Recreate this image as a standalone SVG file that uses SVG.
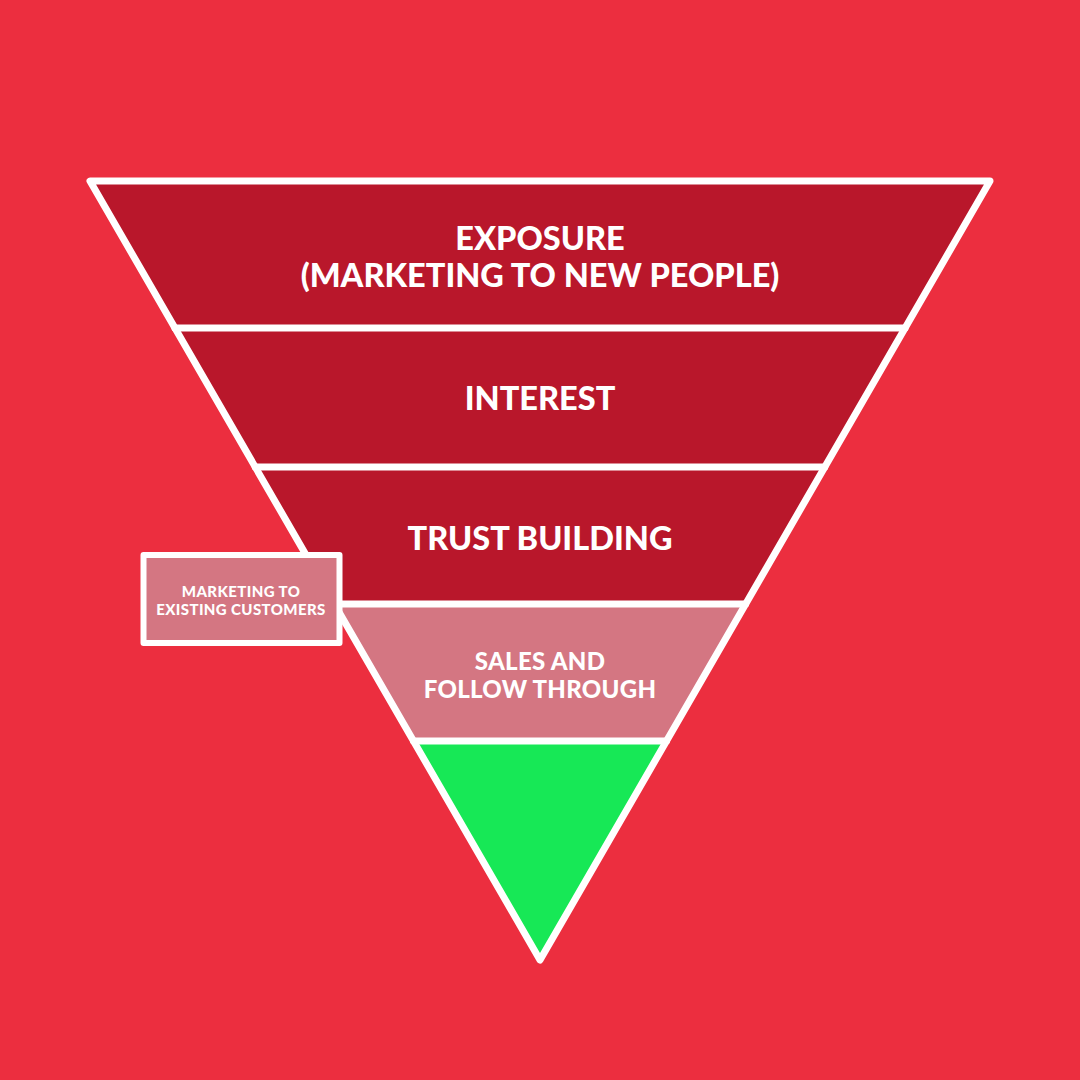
<svg xmlns="http://www.w3.org/2000/svg" width="1080" height="1080" viewBox="0 0 1080 1080">
<style>
.t{font-family:Lato,"Open Sans","Liberation Sans",sans-serif;font-weight:900;fill:#ffffff;text-anchor:middle}
.big{font-size:32.5px}
.mid{font-size:24px;letter-spacing:0.3px}
.small{font-size:15px;letter-spacing:0.4px}
.dark{fill:#b9172b}
.pink{fill:#d47682}
.green{fill:#17e856}
.edge{stroke:#ffffff;stroke-width:7;fill:none;stroke-linejoin:round;stroke-linecap:round}
</style>
<rect width="1080" height="1080" fill="#ec2e3f"/>
<g id="band-exposure">
<polygon class="dark" points="90,181 990,181 905.1,328 174.9,328"/>
<text class="t big" x="540" y="250">EXPOSURE</text>
<text class="t big" x="540" y="287">(MARKETING TO NEW PEOPLE)</text>
</g>
<g id="band-interest">
<polygon class="dark" points="174.9,328 905.1,328 824.8,467 255.2,467"/>
<text class="t big" x="540" y="410">INTEREST</text>
</g>
<g id="band-trust">
<polygon class="dark" points="255.2,467 824.8,467 745.6,604 334.4,604"/>
<text class="t big" x="540" y="550">TRUST BUILDING</text>
</g>
<g id="band-sales">
<polygon class="pink" points="334.4,604 745.6,604 666.5,741 413.5,741"/>
<text class="t mid" x="540" y="670">SALES AND</text>
<text class="t mid" x="540" y="698">FOLLOW THROUGH</text>
</g>
<g id="band-bottom">
<polygon class="green" points="413.5,741 666.5,741 540,960"/>
</g>
<g id="connectors">
<polygon class="edge" points="90,181 990,181 540,960"/>
<line class="edge" x1="174.9" y1="328" x2="905.1" y2="328"/>
<line class="edge" x1="255.2" y1="467" x2="824.8" y2="467"/>
<line class="edge" x1="334.4" y1="604" x2="745.6" y2="604"/>
<line class="edge" x1="413.5" y1="741" x2="666.5" y2="741"/>
</g>
<g id="existing-customers">
<rect x="143.5" y="555" width="196" height="88" fill="#d47682" stroke="#ffffff" stroke-width="6" stroke-linejoin="round"/>
<text class="t small" x="241" y="597">MARKETING TO</text>
<text class="t small" x="241" y="615">EXISTING CUSTOMERS</text>
</g>
</svg>
